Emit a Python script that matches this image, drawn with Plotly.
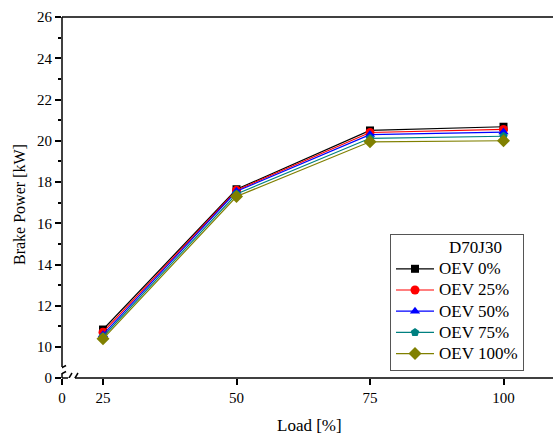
import plotly.graph_objects as go

# Engine load points [%]
load = [25, 50, 75, 100]

# Brake power [kW] for each OEV blend ratio (D70J30 base fuel)
oev_0 = [10.85, 17.65, 20.50, 20.68]
oev_25 = [10.72, 17.60, 20.40, 20.55]
oev_50 = [10.60, 17.55, 20.30, 20.42]
oev_75 = [10.50, 17.42, 20.12, 20.22]
oev_100 = [10.40, 17.30, 19.95, 20.00]

series_names = ["OEV 0%", "OEV 25%", "OEV 50%", "OEV 75%", "OEV 100%"]
series_values = [oev_0, oev_25, oev_50, oev_75, oev_100]
series_colors = ["#000000", "#FF0000", "#0000FF", "#008080", "#808000"]
series_symbols = ["square", "circle", "triangle-up", "pentagon", "diamond"]
series_sizes = [8, 9, 9, 9, 10]

# Broken axes: the "0" tick sits just below the break on each axis
x_zero_pos = 17.32
y_zero_pos = 8.5
x_end = 109.27
y_top = 26

x_tickvals = [x_zero_pos, 25, 50, 75, 100]
x_ticktext = ["0", "25", "50", "75", "100"]
y_tickvals = [y_zero_pos] + list(range(10, 27, 2))
y_ticktext = ["0"] + [str(v) for v in range(10, 27, 2)]
y_minor = list(range(11, 26, 2))

FONT = "Liberation Serif, Times New Roman, serif"
LEG_SPAN = '<span style="font-size:17px">{}</span>'

fig = go.Figure()
for name, vals, col, sym, sz in zip(series_names, series_values, series_colors,
                                     series_symbols, series_sizes):
    fig.add_trace(go.Scatter(
        x=load, y=vals, name=LEG_SPAN.format(name), mode="lines+markers",
        line=dict(color=col, width=1.2),
        marker=dict(symbol=sym, size=sz, color=col, line=dict(width=0)),
    ))

W, H = 553, 434
ml, mt, mb = 62, 17, 56
pw = W - ml
ph = H - mt - mb


def px_to_x(px):
    return x_zero_pos + (px - ml) / pw * (x_end - x_zero_pos)


def py_to_y(py):
    return y_zero_pos + (H - mb - py) / ph * (y_top - y_zero_pos)


axis_line = dict(color="black", width=1.5)
shapes = []
# top frame line
shapes.append(dict(type="line", xref="paper", yref="paper", x0=0, x1=1, y0=1, y1=1,
                   line=axis_line))
# left axis with a break near the bottom
shapes.append(dict(type="line", xref="paper", yref="y", x0=0, x1=0,
                   y0=py_to_y(367), y1=y_top, line=axis_line))
shapes.append(dict(type="line", xref="paper", yref="y", x0=0, x1=0,
                   y0=y_zero_pos, y1=py_to_y(373), line=axis_line))
for py in (368, 374):
    shapes.append(dict(type="line", xref="x", yref="y",
                       x0=px_to_x(ml - 5), x1=px_to_x(ml + 4),
                       y0=py_to_y(py + 2.5), y1=py_to_y(py - 2.5),
                       line=dict(color="black", width=1.5)))
# bottom axis with a break near the left
shapes.append(dict(type="line", xref="x", yref="paper", x0=x_zero_pos, x1=px_to_x(68),
                   y0=0, y1=0, line=axis_line))
shapes.append(dict(type="line", xref="x", yref="paper", x0=px_to_x(75), x1=x_end,
                   y0=0, y1=0, line=axis_line))
for px in (69, 75):
    shapes.append(dict(type="line", xref="x", yref="y",
                       x0=px_to_x(px - 3), x1=px_to_x(px + 3),
                       y0=py_to_y(H - mb + 5), y1=py_to_y(H - mb - 5),
                       line=dict(color="black", width=1.5)))

annotations = [
    dict(text="Brake Power [kW]", textangle=-90, xref="paper", yref="paper",
         x=(19 - ml) / pw, y=(H - mb - 205) / ph, xanchor="center", yanchor="middle",
         showarrow=False, font=dict(family=FONT, size=16)),
    dict(text="Load [%]", xref="paper", yref="paper",
         x=(309 - ml) / pw, y=(H - mb - 425) / ph, xanchor="center", yanchor="middle",
         showarrow=False, font=dict(family=FONT, size=17)),
]

fig.update_layout(
    width=W, height=H,
    margin=dict(l=ml, r=0, t=mt, b=mb, pad=0),
    paper_bgcolor="white", plot_bgcolor="white",
    font=dict(family=FONT, size=15, color="black"),
    shapes=shapes,
    annotations=annotations,
    showlegend=True,
    legend=dict(
        x=(390 - ml) / pw, y=(H - mb - 234) / ph, xanchor="left", yanchor="top",
        bordercolor="#555555", borderwidth=1, bgcolor="white",
        font=dict(family=FONT, size=14),
        title=dict(text="&nbsp;" * 16 + LEG_SPAN.format("D70J30"), side="top",
                   font=dict(family=FONT, size=14, weight=400)),
        tracegroupgap=0, itemwidth=38,
    ),
    xaxis=dict(
        range=[x_zero_pos, x_end], tickmode="array", tickvals=x_tickvals,
        ticktext=x_ticktext, ticks="outside", ticklen=6, tickwidth=1.5,
        tickcolor="black", showgrid=False, zeroline=False, showline=False,
        tickfont=dict(family=FONT, size=15),
    ),
    yaxis=dict(
        range=[y_zero_pos, y_top], tickmode="array", tickvals=y_tickvals,
        ticktext=y_ticktext, ticks="outside", ticklen=6, tickwidth=1.5,
        tickcolor="black", showgrid=False, zeroline=False, showline=False,
        tickfont=dict(family=FONT, size=15),
        minor=dict(tickmode="array", tickvals=y_minor, ticks="outside", ticklen=3,
                   tickwidth=1.5, tickcolor="black", showgrid=False),
    ),
)

fig.write_html("out.html")
